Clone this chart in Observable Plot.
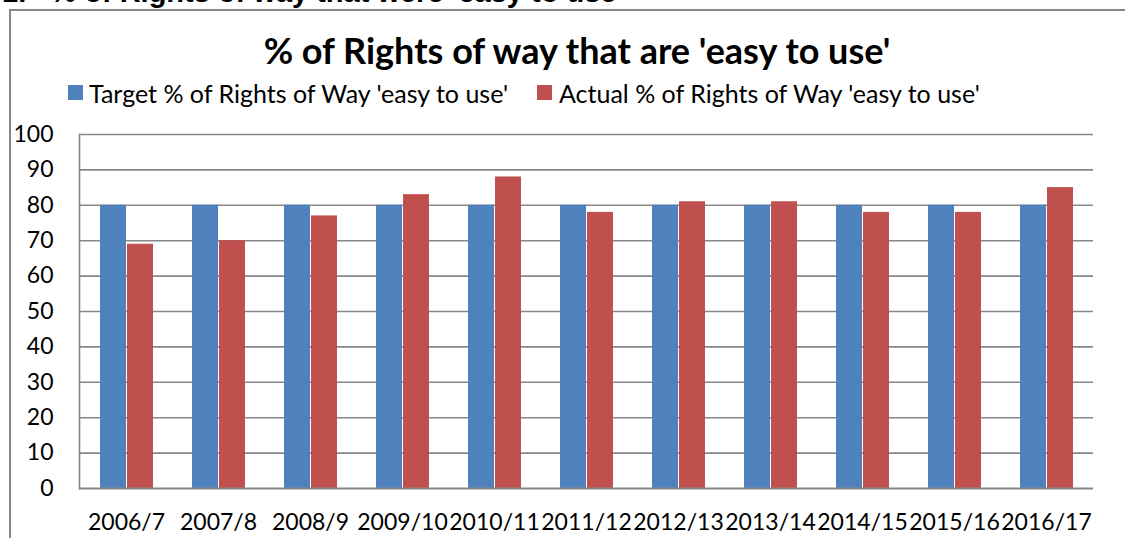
<!DOCTYPE html>
<html><head><meta charset="utf-8">
<script src="https://cdn.jsdelivr.net/npm/d3@7"></script>
<script src="https://cdn.jsdelivr.net/npm/@observablehq/plot@0.6"></script>
<style>
html,body{margin:0;padding:0;background:#fff;overflow:hidden;width:1125px;height:538px;position:relative;font-family:Lato,"Open Sans",sans-serif;color:#000;}
#heading{position:absolute;left:2px;top:-22px;font:bold 29px "Liberation Sans",Arial,sans-serif;white-space:pre;line-height:29px;}
#box{position:absolute;left:9px;top:9px;width:1300px;height:700px;border:2px solid #878787;}
#title{position:absolute;left:0;width:1154px;top:30px;text-align:center;font-weight:bold;font-size:36px;line-height:40px;}
.leg{position:absolute;top:78px;font-size:25px;line-height:30px;white-space:pre;}
.sw{position:absolute;top:85px;width:15px;height:15px;}
#chart{position:absolute;left:0;top:120px;}
</style></head>
<body>
<div id="heading">1.   % of Rights of way that were 'easy to use'</div>
<div id="box"></div>
<div id="title">% of Rights of way that are 'easy to use'</div>
<div class="sw" id="sw1"></div><div class="leg" id="leg1"></div>
<div class="sw" id="sw2"></div><div class="leg" id="leg2"></div>
<div id="chart"></div>
<script>
const years = ["2006/7","2007/8","2008/9","2009/10","2010/11","2011/12","2012/13","2013/14","2014/15","2015/16","2016/17"];
const target = [80,80,80,80,80,80,80,80,80,80,80];
const actual = [69,70,77,83,88,78,81,81,78,78,85];
const seriesNames = ["Target % of Rights of Way 'easy to use'","Actual % of Rights of Way 'easy to use'"];
const seriesColors = ["#4f81bd","#c0504d"];
const yTicks = [0,10,20,30,40,50,60,70,80,90,100];

const data = years.map((y,i)=>({year:y,target:target[i],actual:actual[i]}));

document.getElementById("sw1").style.cssText += `left:68px;background:${seriesColors[0]}`;
document.getElementById("leg1").style.left = "89px";
document.getElementById("leg1").textContent = seriesNames[0];
document.getElementById("sw2").style.cssText += `left:537px;background:${seriesColors[1]}`;
document.getElementById("leg2").style.left = "559px";
document.getElementById("leg2").textContent = seriesNames[1];

const chart = Plot.plot({
  width:1125, height:418,
  marginLeft:79, marginRight:32, marginTop:14, marginBottom:50,
  style:{fontFamily:"Lato, 'Open Sans', sans-serif", fontSize:"23px", color:"#000", background:"transparent", overflow:"visible"},
  x:{domain:years, padding:0, label:null, tickSize:0, tickPadding:25},
  y:{domain:[0,100], ticks:yTicks, label:null, tickSize:0, tickPadding:26},
  marks:[
    Plot.ruleY(yTicks.filter(d=>d>0), {stroke:"#878787", strokeWidth:1.6}),
    Plot.barY(data, {x:"year", y:"target", fill:seriesColors[0], insetLeft:20, insetRight:46}),
    Plot.barY(data, {x:"year", y:"actual", fill:seriesColors[1], insetLeft:47, insetRight:19}),
    Plot.frame({anchor:"left", stroke:"#878787", strokeWidth:1.6}),
    Plot.ruleY([0], {stroke:"#878787", strokeWidth:2})
  ]
});
document.getElementById("chart").appendChild(chart);
</script>
</body></html>
